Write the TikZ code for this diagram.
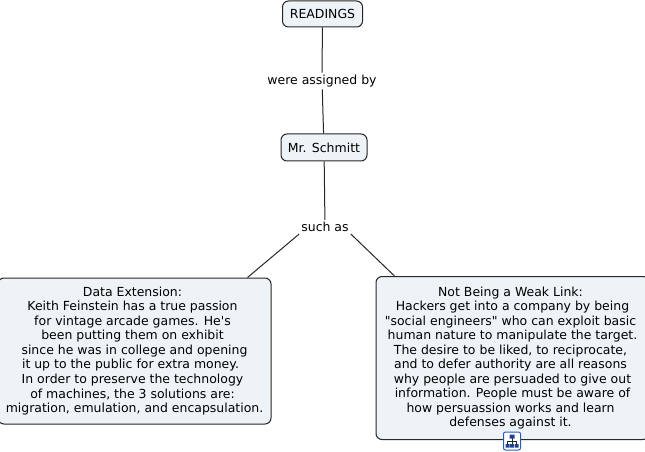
\documentclass[tikz,border=0pt]{standalone}
\usepackage{fontspec}
\newfontfamily\mapfont{DejaVu Sans}
\newcommand{\pad}{\kern3pt}
\tikzset{
  concept/.style={draw=black!85, fill=boxfill, rounded corners=4.5pt, line width=0.75pt, align=center, inner sep=0pt, font=\mapfont\fontsize{9.35}{10.9}\selectfont},
  linking/.style={inner sep=1.5pt, font=\mapfont\fontsize{9.35}{10.9}\selectfont},
  connector/.style={line width=0.75pt, black!85}
}
\definecolor{boxfill}{RGB}{237,243,246}
\definecolor{iconblue}{RGB}{40,90,190}
\begin{document}
\begin{tikzpicture}[x=0.75pt,y=-0.75pt]
\useasboundingbox (0,0) rectangle (645,452);
\node [concept, minimum width=60pt, minimum height=19.5pt] (readings) at (322.5,14) {READINGS};
\node [concept, minimum width=64.5pt, minimum height=20.25pt] (schmitt) at (324,147.5) {Mr. Schmitt};
\node [linking] (assigned) at (322,81) {were assigned by};
\node [linking] (suchas) at (325,227) {such as};
\node [concept, minimum width=204.75pt, minimum height=109.5pt] (data) at (134.5,351) {Data Extension:\pad\\Keith Feinstein has a true passion\pad\\for vintage arcade games.  He's\pad\\been putting them on exhibit\pad\\since he was in college and opening\\it up to the public for extra money.\pad\pad\\In order to preserve the technology\pad\\of machines, the 3 solutions are:\pad\\migration, emulation, and encapsulation.};
\node [concept, minimum width=204.75pt, minimum height=122.25pt] (weaklink) at (512.5,358) {Not Being a Weak Link:\pad\\Hackers get into a company by being\\"social engineers" who can exploit basic\pad\\human nature to manipulate the target.\\The desire to be liked, to reciprocate,\pad\\and to defer authority are all reasons\pad\\why people are persuaded to give out\\information. People must be aware of\\how persuassion works and learn\pad\\defenses against it.\pad};
\draw [connector] (readings) -- (assigned);
\draw [connector] (assigned) -- (schmitt);
\draw [connector] (schmitt) -- (suchas);
\draw [connector] (suchas.south west) -- ([xshift=-18pt]data.north east);
\draw [connector] (suchas.south east) -- ([xshift=14.25pt]weaklink.north west);
% hierarchy icon below the box
\node [draw=iconblue, fill=white, rounded corners=1.5pt, line width=0.75pt, minimum width=12.75pt, minimum height=13.5pt, inner sep=0pt] (icon) at (512,441) {};
\draw [line width=0.6pt, black!85] (512,436) -- (512,445) (507.5,441) -- (516.5,441) (507.5,441) -- (507.5,445) (516.5,441) -- (516.5,445);
\fill [iconblue!75!black] (509.5,434.5) rectangle (514.5,438.5) (505.5,444) rectangle (509.5,447.5) (510.2,444) rectangle (513.8,447.5) (514.5,444) rectangle (518.5,447.5);
\end{tikzpicture}
\end{document}
